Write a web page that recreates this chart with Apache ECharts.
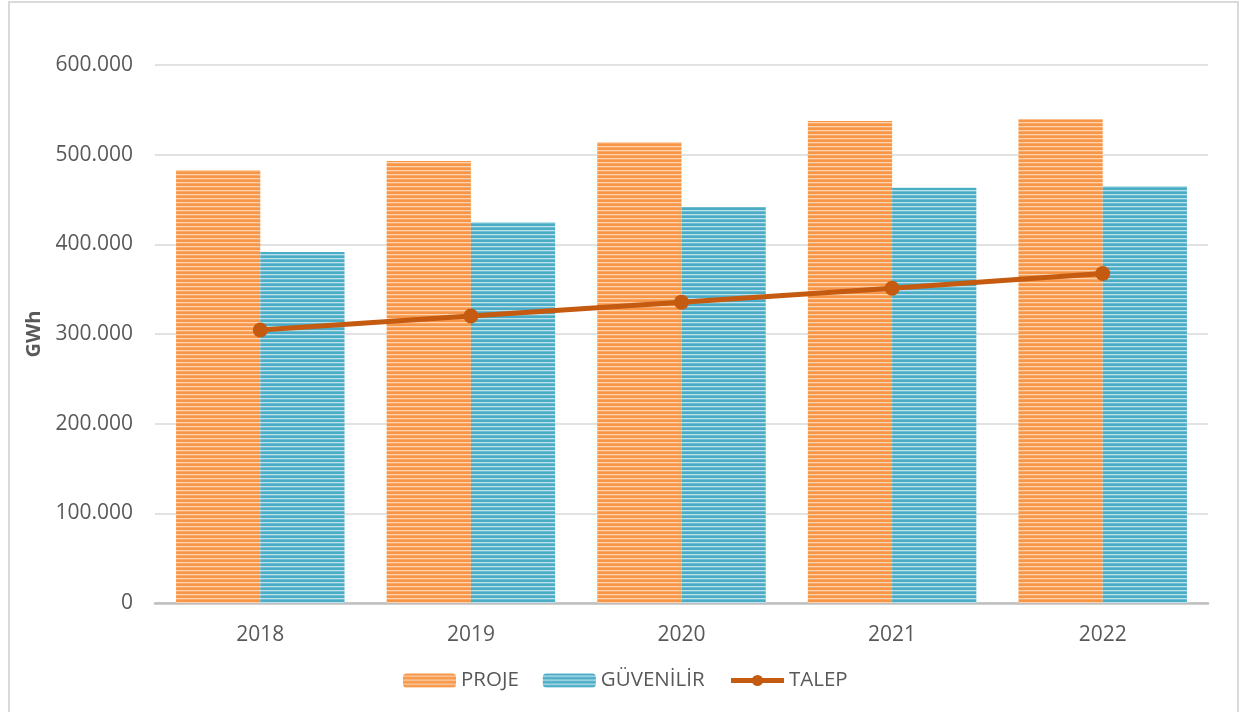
<!DOCTYPE html>
<html>
<head>
<meta charset="utf-8">
<script src="https://cdn.jsdelivr.net/npm/echarts@6/dist/echarts.min.js"></script>
<style>
html,body{margin:0;padding:0;background:#fff;}
#chart{width:1241px;height:712px;}
</style>
</head>
<body>
<div id="chart"></div>
<script>
var categories = ['2018', '2019', '2020', '2021', '2022'];
var projeValues = [483000, 493000, 514000, 537500, 539500];
var guvenilirValues = [391500, 425000, 441500, 463000, 465000];
var talepValues = [304500, 320000, 335500, 351000, 367500];
var seriesNames = ['PROJE', 'GÜVENİLİR', 'TALEP'];

function stripes(dark, light, mid) {
  var c = document.createElement('canvas');
  c.width = 8; c.height = 4;
  var g = c.getContext('2d');
  g.fillStyle = dark; g.fillRect(0, 0, 8, 2);
  g.fillStyle = light; g.fillRect(0, 2, 8, 1);
  g.fillStyle = mid; g.fillRect(0, 3, 8, 1);
  return { image: c, repeat: 'repeat' };
}

var chart = echarts.init(document.getElementById('chart'));
var font = '"Open Sans", sans-serif';
chart.setOption({
  animation: false,
  backgroundColor: '#fff',
  textStyle: { fontFamily: font },
  graphic: [{
    type: 'rect', z: -10, silent: true,
    shape: { x: 9, y: 2, width: 1229, height: 730 },
    style: { fill: 'none', stroke: '#d9d9d9', lineWidth: 2 }
  }],
  grid: { left: 155, right: 33, top: 65, bottom: 109, containLabel: false },
  legend: {
    left: 398, top: 665,
    itemWidth: 53, itemHeight: 14, itemGap: 24,
    textStyle: { fontFamily: font, fontSize: 20.5, color: '#595959' },
    data: [
      { name: seriesNames[0] },
      { name: seriesNames[1] },
      { name: seriesNames[2], lineStyle: { width: 5, color: '#c55a11' } }
    ]
  },
  xAxis: {
    type: 'category', data: categories,
    axisLine: { lineStyle: { color: '#bfbfbf', width: 2.5 } },
    axisTick: { show: false },
    axisLabel: { margin: 22, fontSize: 21, color: '#595959', fontFamily: font }
  },
  yAxis: {
    type: 'value', min: 0, max: 600000, interval: 100000,
    name: 'GWh', nameLocation: 'middle', nameRotate: 90, nameGap: 107,
    nameTextStyle: { fontSize: 20, fontWeight: 'bold', color: '#595959', fontFamily: font },
    axisLine: { show: false }, axisTick: { show: false },
    splitLine: { lineStyle: { color: '#d9d9d9', width: 1.5 } },
    axisLabel: {
      margin: 22, fontSize: 21, color: '#595959', fontFamily: font,
      formatter: function (v) { return v === 0 ? '0' : String(v).replace(/\B(?=(\d{3})+(?!\d))/g, '.'); }
    }
  },
  series: [
    {
      name: seriesNames[0], type: 'bar', data: projeValues,
      barWidth: '40%', barGap: '0%',
      itemStyle: { color: stripes('#f79646', '#fcd3b0', '#f9a866') }
    },
    {
      name: seriesNames[1], type: 'bar', data: guvenilirValues,
      barWidth: '40%', barGap: '0%',
      itemStyle: { color: stripes('#4bacc6', '#bde2ec', '#6fbdd2') }
    },
    {
      name: seriesNames[2], type: 'line', data: talepValues,
      symbol: 'circle', symbolSize: 15,
      lineStyle: { color: '#c55a11', width: 5 },
      itemStyle: { color: '#c55a11' }, z: 5
    }
  ]
});
</script>
</body>
</html>
